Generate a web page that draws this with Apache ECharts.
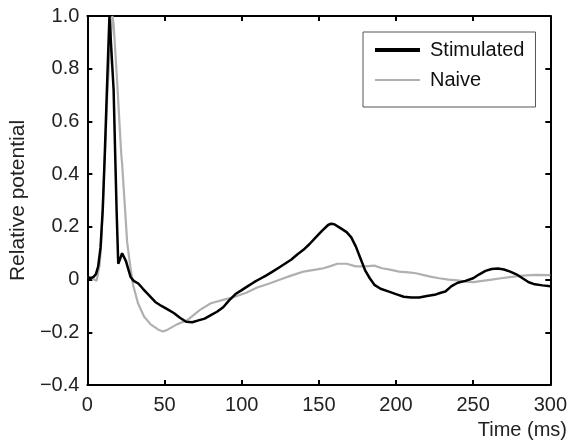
<!DOCTYPE html>
<html>
<head>
<meta charset="utf-8">
<script src="https://cdn.jsdelivr.net/npm/echarts@6/dist/echarts.min.js"></script>
<style>html,body{margin:0;padding:0;background:#fff}#c{width:570px;height:443px}</style>
</head>
<body>
<div id="c"></div>
<script>
// Time (ms), relative potential
const stimulated = [
[0,0.01],[2,0.005],[4,0.01],[5.5,0.02],[7,0.05],[8.5,0.12],[10,0.27],[11.3,0.48],[13,0.78],[14.3,1.0],[15.5,1.0],
[17,0.72],[18,0.48],[19,0.25],[20,0.06],[21,0.075],[22.5,0.1],[23.5,0.1],[25,0.07],[26.5,0.04],[28,0.01],[30,-0.005],
[33,-0.015],[36,-0.035],[40,-0.06],[44,-0.085],[48,-0.1],[52,-0.113],[56,-0.127],[60,-0.145],[64,-0.16],[68,-0.162],
[72,-0.155],[76,-0.148],[80,-0.135],[84,-0.122],[88,-0.105],[92,-0.078],[96,-0.055],[100,-0.04],[104,-0.025],[108,-0.01],
[112,0.003],[116,0.016],[120,0.03],[124,0.045],[128,0.06],[132,0.075],[136,0.095],[140,0.113],[144,0.135],[148,0.16],
[152,0.185],[156,0.207],[158,0.212],[160,0.21],[164,0.195],[168,0.18],[171,0.16],[174,0.125],[177,0.08],[180,0.035],
[183,0.005],[186,-0.02],[190,-0.035],[195,-0.045],[200,-0.055],[205,-0.065],[210,-0.068],[215,-0.068],[220,-0.062],
[225,-0.058],[229,-0.05],[232,-0.045],[236,-0.025],[240,-0.012],[245,-0.005],[250,0.005],[254,0.02],[258,0.033],
[262,0.04],[266,0.042],[270,0.038],[274,0.03],[278,0.02],[282,0.005],[286,-0.01],[290,-0.018],[295,-0.022],[300,-0.025]
];
const naive = [
[0,0.01],[3,0.005],[6,-0.005],[7,0.0],[8,0.06],[9,0.14],[10.3,0.33],[11.6,0.5],[13,0.72],[14.8,0.88],[16.2,1.0],[17,0.97],
[19.3,0.75],[21.9,0.48],[22.5,0.44],[25.8,0.14],[27.7,0.055],[29.6,-0.02],[32.8,-0.09],[36.7,-0.14],[41,-0.17],[46,-0.19],
[49,-0.197],[52,-0.19],[58,-0.17],[65,-0.153],[73,-0.115],[80,-0.09],[88,-0.077],[95,-0.066],[103,-0.05],[110,-0.03],
[118,-0.015],[125,0.0],[132,0.015],[140,0.03],[148,0.038],[153,0.043],[158,0.052],[162,0.06],[168,0.06],[174,0.05],
[180,0.05],[186,0.053],[191,0.043],[196,0.038],[202,0.03],[208,0.027],[213,0.024],[218,0.017],[223,0.01],[228,0.005],
[234,0.0],[240,-0.003],[245,-0.008],[250,-0.01],[256,-0.005],[262,0.0],[268,0.005],[275,0.01],[282,0.015],[290,0.018],[300,0.017]
];
const xTicks = [0,50,100,150,200,250,300];
const yTicks = [-0.4,-0.2,0,0.2,0.4,0.6,0.8,1.0];
const seriesNames = ['Stimulated','Naive'];
const xName = 'Time (ms)';
const yName = 'Relative potential';

const FONT = 'Liberation Sans, Arial, Helvetica, sans-serif';
const fs = 20;
function yfmt(v){
  if (Math.abs(v) < 1e-9) return '0';
  const s = Math.abs(v).toFixed(1);
  return (v < 0 ? '\u2212' : '') + s;
}
const axisLine = {show:true, onZero:false, lineStyle:{color:'#000', width:2}};
const tick = {show:true, inside:true, length:5, lineStyle:{color:'#000', width:2}};
const chart = echarts.init(document.getElementById('c'), null, {renderer:'canvas'});
chart.setOption({
  animation:false,
  title:{text:xName, right:3, top:420, padding:0,
    textStyle:{fontFamily:FONT, fontSize:fs, color:'#222', fontWeight:'normal'}},
  grid:{left:86, right:18, top:16, bottom:58, containLabel:false},
  legend:{
    left:363, top:32, orient:'vertical',
    data:[
      {name:seriesNames[0], icon:'path://M0,0h45v4h-45z'},
      {name:seriesNames[1], icon:'path://M0,0h45v2h-45z'}
    ],
    itemWidth:45, itemHeight:14, itemGap:10,
    padding:[8,11,17,12],
    borderColor:'#555', borderWidth:1,
    textStyle:{fontFamily:FONT, fontSize:fs, color:'#111', lineHeight:20, padding:[0,0,0,5]}
  },
  xAxis:[
    {type:'value', min:0, max:300, interval:50, position:'bottom',
     axisLine, axisTick:tick, splitLine:{show:false},
     axisLabel:{fontFamily:FONT, fontSize:fs, color:'#222', margin:10}},
    {type:'value', min:0, max:300, interval:50, position:'top',
     axisLine, axisTick:tick, axisLabel:{show:false}, splitLine:{show:false}}
  ],
  yAxis:[
    {type:'value', min:-0.4, max:1.0, interval:0.2, position:'left',
     axisLine, axisTick:tick, splitLine:{show:false},
     axisLabel:{fontFamily:FONT, fontSize:fs, color:'#222', margin:8, formatter:yfmt},
     name:yName, nameLocation:'middle', nameGap:58, nameRotate:90,
     nameTextStyle:{fontFamily:FONT, fontSize:21, color:'#222'}},
    {type:'value', min:-0.4, max:1.0, interval:0.2, position:'right',
     axisLine, axisTick:tick, axisLabel:{show:false}, splitLine:{show:false}}
  ],
  series:[
    {name:seriesNames[1], type:'line', data:naive, symbol:'none', z:2,
     lineStyle:{color:'#b0b0b0', width:2.2}, itemStyle:{color:'#b0b0b0'}},
    {name:seriesNames[0], type:'line', data:stimulated, symbol:'none', z:3,
     lineStyle:{color:'#000', width:2.5}, itemStyle:{color:'#000'}}
  ]
});
</script>
</body>
</html>
